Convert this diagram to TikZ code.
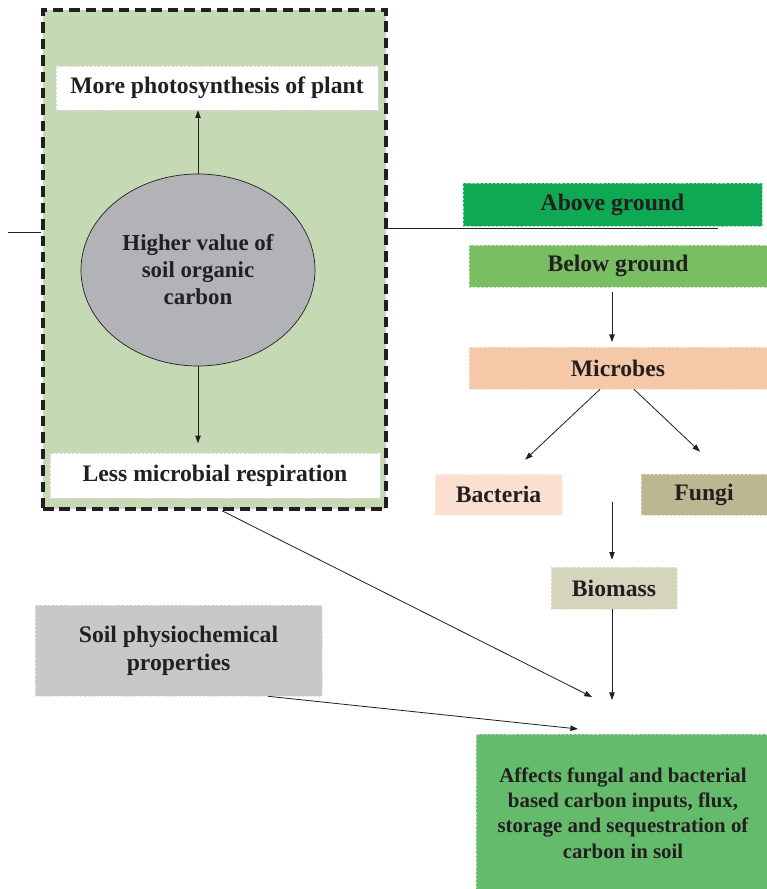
\documentclass[tikz,border=0pt]{standalone}
\usepackage{fontspec}
\setmainfont{Liberation Serif}
\usepackage{tikz}
\usetikzlibrary{arrows.meta, positioning, shapes.geometric, calc}

\begin{document}
\begin{tikzpicture}[
    x=1cm, y=1cm,
    every node/.style={font=\bfseries\fontsize{20.2}{24}\selectfont, align=center, text=ink},
    box/.style={
      rectangle, fill=#1, draw=#1!45!white, dashed,
      dash pattern=on 2pt off 1.5pt, line width=0.5pt, inner sep=2pt
    },
    whitebox/.style={
      rectangle, fill=white, draw=black!14, dashed,
      dash pattern=on 2pt off 1.5pt, line width=0.5pt
    },
    frame/.style={
      rectangle, fill=frameFill, draw=ink,
      dash pattern=on 9pt off 5pt, line width=3pt
    },
    arr/.style={-{Triangle[length=6.5pt, width=4.6pt]}, draw=ink, line width=0.7pt},
    link/.style={draw=ink, line width=0.7pt}
  ]
    \definecolor{ink}{RGB}{35,31,32}
    \definecolor{frameFill}{RGB}{197,217,180}
    \definecolor{socGray}{RGB}{178,179,183}
    \definecolor{aboveGreen}{RGB}{16,169,83}
    \definecolor{belowGreen}{RGB}{121,190,98}
    \definecolor{microbePeach}{RGB}{245,200,168}
    \definecolor{bacteriaPink}{RGB}{250,224,208}
    \definecolor{fungiOlive}{RGB}{188,183,146}
    \definecolor{biomassTan}{RGB}{213,212,189}
    \definecolor{soilGray}{RGB}{200,200,203}
    \definecolor{effectGreen}{RGB}{101,187,108}

    \useasboundingbox (0,0) rectangle (23.01,26.67);

    % left panel: soil organic carbon
    \node[frame, minimum width=10.29cm, minimum height=14.97cm] (outer) at (6.435,18.885) {};
    \node[whitebox, minimum width=9.66cm, minimum height=1.32cm] (photo) at (6.51,24.03) {More photosynthesis of plant};
    \node[ellipse, fill=socGray, draw=ink, line width=0.6pt,
          minimum width=7.02cm, minimum height=5.76cm, inner sep=0pt,
          font=\bfseries\fontsize{19.5}{23}\selectfont] (soc) at (5.94,18.57)
          {Higher value of\\soil organic\\carbon};
    \node[whitebox, minimum width=9.9cm, minimum height=1.35cm] (resp) at (6.45,12.405) {Less microbial respiration};

    \draw[arr] (soc.north) -- (photo.south -| soc.north);
    \draw[arr, shorten >=8pt] (soc.south) -- (resp.north -| soc.south);

    % right column: carbon pools and microbes
    \node[box=aboveGreen, minimum width=8.97cm, minimum height=1.29cm] (above) at (18.375,20.535) {Above ground};
    \node[box=belowGreen, minimum width=8.94cm, minimum height=1.26cm] (below) at (18.54,18.69) {Below ground};
    \node[box=microbePeach, minimum width=8.94cm, minimum height=1.26cm] (microbes) at (18.54,15.63) {Microbes};
    \node[box=bacteriaPink, minimum width=3.81cm, minimum height=1.23cm] (bacteria) at (14.955,11.835) {Bacteria};
    \node[box=fungiOlive, minimum width=3.78cm, minimum height=1.23cm] (fungi) at (21.12,11.835) {Fungi};
    \node[box=biomassTan, minimum width=3.78cm, minimum height=1.26cm] (biomass) at (18.42,9.03) {Biomass};

    \node[box=soilGray, minimum width=8.61cm, minimum height=2.73cm] (soil) at (5.355,7.155) {Soil physiochemical\\properties};
    \node[box=effectGreen, minimum width=8.82cm, minimum height=4.74cm,
          font=\bfseries\fontsize{17.8}{21.7}\selectfont] (effect) at (18.69,2.28)
          {Affects fungal and bacterial\\based carbon inputs, flux,\\storage and sequestration of\\carbon in soil};

    % loose ends
    \coordinate (leftEnd) at (0.24,19.71);
    \coordinate (rightEnd) at (21.54,19.815);
    \coordinate (split) at (18.36,11.61);
    \coordinate (meetA) at (17.76,5.76);
    \coordinate (meetB) at (18.36,5.67);
    \coordinate (meetC) at (17.34,4.80);

    \draw[link] (leftEnd) -- (leftEnd -| outer.west);
    \draw[link] (rightEnd -| outer.east) -- (rightEnd);

    \draw[arr, shorten <=4pt, shorten >=4pt] (below.south -| split) -- (microbes.north -| split);
    \draw[arr] ($(microbes.south)+(-0.54,0)$) -- ($(bacteria.north)+(0.8,0.42)$);
    \draw[arr] ($(microbes.south)+(0.48,0)$) -- ($(fungi.north)+(-0.12,0.66)$);
    \draw[arr, shorten >=6pt] (split) -- (split |- biomass.north);
    \draw[arr] (biomass.south -| split) -- (meetB);

    \draw[arr] ($(outer.south)+(0.225,0)$) -- (meetA);
    \draw[arr] ($(soil.south)+(2.685,0)$) -- (meetC);
  \end{tikzpicture}
\end{document}
